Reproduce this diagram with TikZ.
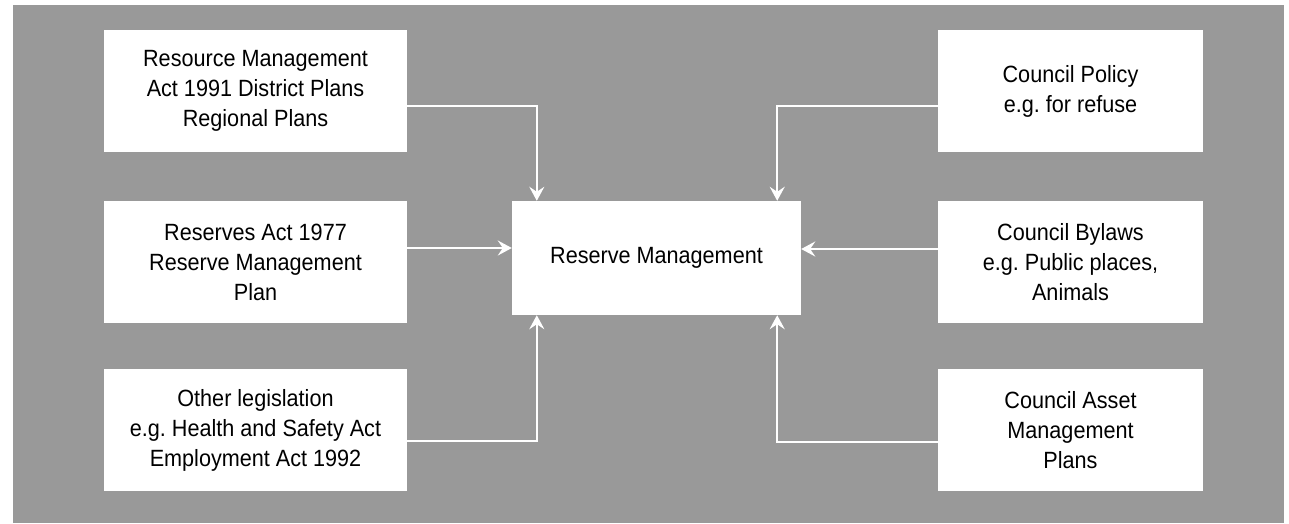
\documentclass[tikz,border=0pt]{standalone}
\usepackage{fontspec}
\setmainfont[FakeStretch=0.92]{Liberation Sans}
\usetikzlibrary{arrows.meta}
\definecolor{bg}{RGB}{153,153,153}
\frenchspacing
\begin{document}
\begin{tikzpicture}[x=1pt,y=-1pt,
  box/.style={fill=white, draw=none, inner sep=0pt, align=center, font=\fontsize{23.5}{30}\selectfont},
  sidebox/.style={box, minimum height=122pt},
  arr/.style={draw=white, line width=2pt, -{Stealth[length=14pt,width=15pt,inset=5pt]}}]
\useasboundingbox (0,0) rectangle (1289,523);
\fill[bg] (13,5) rectangle (1284,523);
% left boxes
\node[sidebox, minimum width=303pt] (L1) at (255.5,91) {Resource Management\\Act 1991 District Plans\\Regional Plans};
\node[sidebox, minimum width=303pt] (L2) at (255.5,262) {Reserves Act 1977\\Reserve Management\\Plan};
\node[sidebox, minimum width=303pt] (L3) at (255.5,430) {Other legislation\\e.g. Health and Safety Act\\Employment Act 1992};
% centre
\node[box, minimum width=289pt, minimum height=114pt] (C) at (656.5,258) {Reserve Management};
% right boxes
\node[sidebox, minimum width=265pt] (R1) at (1070.5,91) {Council Policy\\e.g. for refuse};
\node[sidebox, minimum width=265pt] (R2) at (1070.5,262) {Council Bylaws\\e.g. Public places,\\Animals};
\node[sidebox, minimum width=265pt] (R3) at (1070.5,430) {Council Asset\\Management\\Plans};
% connector start points
\coordinate (a1) at ([yshift=-15pt]L1.east);
\coordinate (a2) at ([yshift=14pt]L2.east);
\coordinate (a3) at ([yshift=-11pt]L3.east);
\coordinate (b1) at ([yshift=-15pt]R1.west);
\coordinate (b2) at ([yshift=13pt]R2.west);
\coordinate (b3) at ([yshift=-12pt]R3.west);
% connectors
\draw[arr] (a1) -| ([xshift=25pt]C.north west);
\draw[arr] (a2) -- (a2 -| C.west);
\draw[arr] (a3) -| ([xshift=25pt]C.south west);
\draw[arr] (b1) -| ([xshift=-24pt]C.north east);
\draw[arr] (b2) -- (b2 -| C.east);
\draw[arr] (b3) -| ([xshift=-24pt]C.south east);
\end{tikzpicture}
\end{document}
